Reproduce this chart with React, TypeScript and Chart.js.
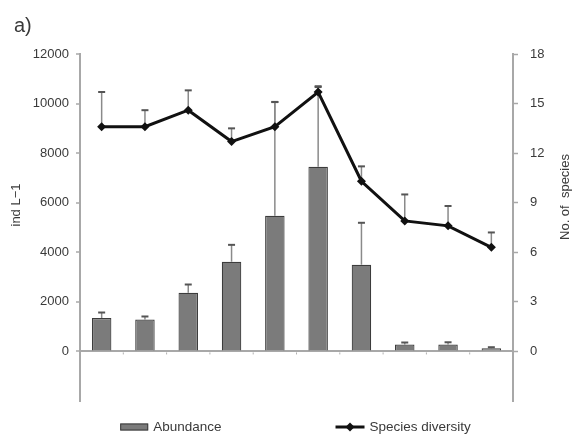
import React, { useEffect, useRef } from "react";
import { Chart, registerables } from "chart.js";

Chart.register(...registerables);

const categories = ["1", "2", "3", "4", "5", "6", "7", "8", "9", "10"];
const abundance = [1350, 1290, 2370, 3620, 5470, 7450, 3500, 280, 280, 130];
const abundanceSD = [220, 120, 330, 680, 4590, 3250, 1690, 80, 90, 40];
const diversity = [13.6, 13.6, 14.6, 12.7, 13.6, 15.7, 10.3, 7.9, 7.6, 6.3];
const diversitySD = [2.1, 1.0, 1.2, 0.8, 1.5, 0.3, 0.9, 1.6, 1.2, 0.9];
const leftTicks = { min: -2000, max: 12000, step: 2000 };
const rightTicks = { min: -3, max: 18, step: 3 };

const FONT = "'Liberation Sans', Arial, sans-serif";
const TEXT = "#3a3a3a";
const AXIS = "#a8a8a8";

const extrasPlugin = {
  id: "extras",
  beforeDatasetsDraw(chart: any) {
    const ctx = chart.ctx;
    const x = chart.scales.x;
    const yL = chart.scales.y;
    const yR = chart.scales.y1;
    ctx.save();
    // small category ticks below zero line
    const y0 = yL.getPixelForValue(0);
    ctx.strokeStyle = "#b0b0b0";
    ctx.lineWidth = 1;
    for (let i = 1; i < categories.length; i++) {
      const bx = (x.getPixelForValue(i - 1) + x.getPixelForValue(i)) / 2;
      ctx.beginPath();
      ctx.moveTo(bx, y0 + 1);
      ctx.lineTo(bx, y0 + 3);
      ctx.stroke();
    }
    // error bars (upper only)
    const drawErr = (px: number, yFrom: number, yTo: number, cap: number) => {
      ctx.strokeStyle = "#8a8a8a";
      ctx.lineWidth = 1.5;
      ctx.beginPath();
      ctx.moveTo(px, yFrom);
      ctx.lineTo(px, yTo);
      ctx.stroke();
      ctx.strokeStyle = "#555";
      ctx.lineWidth = 2;
      ctx.beginPath();
      ctx.moveTo(px - cap, yTo);
      ctx.lineTo(px + cap, yTo);
      ctx.stroke();
    };
    const barMeta = chart.getDatasetMeta(0);
    barMeta.data.forEach((el: any, i: number) => {
      drawErr(
        el.x,
        yL.getPixelForValue(abundance[i]),
        yL.getPixelForValue(abundance[i] + abundanceSD[i]),
        3.5
      );
    });
    const lineMeta = chart.getDatasetMeta(1);
    lineMeta.data.forEach((el: any, i: number) => {
      drawErr(
        el.x,
        yR.getPixelForValue(diversity[i]),
        yR.getPixelForValue(diversity[i] + diversitySD[i]),
        3.5
      );
    });
    ctx.restore();
  },
  afterDraw(chart: any) {
    const ctx = chart.ctx;
    const area = chart.chartArea;
    ctx.save();
    ctx.fillStyle = TEXT;
    // panel label
    ctx.font = `20px ${FONT}`;
    ctx.textAlign = "left";
    ctx.textBaseline = "alphabetic";
    ctx.fillText("a)", 14, 32);
    // axis titles
    ctx.font = `13px ${FONT}`;
    ctx.textAlign = "center";
    ctx.textBaseline = "middle";
    ctx.save();
    ctx.translate(16, 205);
    ctx.rotate(-Math.PI / 2);
    ctx.fillText("ind L\u22121", 0, 0);
    ctx.restore();
    ctx.save();
    ctx.translate(565, 197);
    ctx.rotate(-Math.PI / 2);
    ctx.fillText("No. of  species", 0, 0);
    ctx.restore();
    // legend
    const ds = chart.data.datasets;
    ctx.font = `13.5px ${FONT}`;
    const t1 = ds[0].label;
    const t2 = ds[1].label;
    const w1 = 28 + 5 + ctx.measureText(t1).width;
    const w2 = 29 + 5 + ctx.measureText(t2).width;
    const gap = 114;
    const total = w1 + gap + w2;
    const cx = (area.left + area.right) / 2 - 1;
    let lx = cx - total / 2;
    const ly = 427;
    ctx.fillStyle = ds[0].backgroundColor;
    ctx.fillRect(lx, ly - 3.5, 28, 7);
    ctx.strokeStyle = ds[0].borderColor;
    ctx.lineWidth = 1;
    ctx.strokeRect(lx + 0.5, ly - 3, 27, 6);
    ctx.fillStyle = TEXT;
    ctx.textAlign = "left";
    ctx.fillText(t1, lx + 33, ly);
    lx += w1 + gap;
    ctx.strokeStyle = ds[1].borderColor;
    ctx.lineWidth = 3;
    ctx.beginPath();
    ctx.moveTo(lx, ly);
    ctx.lineTo(lx + 29, ly);
    ctx.stroke();
    ctx.fillStyle = ds[1].pointBackgroundColor;
    ctx.beginPath();
    const dx = lx + 14.5;
    ctx.moveTo(dx, ly - 4.5);
    ctx.lineTo(dx + 4.5, ly);
    ctx.lineTo(dx, ly + 4.5);
    ctx.lineTo(dx - 4.5, ly);
    ctx.closePath();
    ctx.fill();
    ctx.fillStyle = TEXT;
    ctx.fillText(t2, lx + 34, ly);
    ctx.restore();
  },
};

export default function App() {
  const ref = useRef<HTMLCanvasElement | null>(null);
  useEffect(() => {
    if (!ref.current) return;
    const chart = new Chart(ref.current, {
      type: "bar",
      data: {
        labels: categories,
        datasets: [
          {
            type: "bar",
            label: "Abundance",
            data: abundance,
            backgroundColor: "#7b7b7b",
            borderColor: "#3c3c3c",
            borderWidth: 1.2,
            barPercentage: 0.9,
            categoryPercentage: 0.5,
            yAxisID: "y",
            order: 2,
          },
          {
            type: "line",
            label: "Species diversity",
            data: diversity,
            borderColor: "#111111",
            borderWidth: 3,
            pointStyle: "rectRot",
            pointRadius: 4.5,
            pointBackgroundColor: "#111111",
            pointBorderColor: "#111111",
            pointBorderWidth: 0,
            tension: 0,
            yAxisID: "y1",
            order: 1,
          } as any,
        ],
      },
      options: {
        animation: false,
        responsive: true,
        maintainAspectRatio: false,
        layout: { padding: { left: 0, right: 0, top: 54, bottom: 33 } },
        plugins: {
          legend: { display: false },
          tooltip: { enabled: false },
          title: { display: false },
        },
        scales: {
          x: {
            display: false,
            offset: true,
          },
          y: {
            position: "left",
            min: leftTicks.min,
            max: leftTicks.max,
            ticks: {
              stepSize: leftTicks.step,
              color: TEXT,
              font: { family: FONT, size: 13 },
              padding: 7,
              callback: (v: any) => (Number(v) < 0 ? "" : String(v)),
            },
            grid: {
              display: true,
              drawOnChartArea: true,
              color: (c: any) => (c.tick && c.tick.value === 0 ? AXIS : "transparent"),
              lineWidth: 2,
              tickColor: (c: any) => (c.tick && c.tick.value < 0 ? "transparent" : AXIS),
              tickLength: 4,
              tickWidth: 1.5,
            },
            border: { display: true, color: AXIS, width: 2 },
            afterFit: (s: any) => {
              s.width = 80;
            },
          },
          y1: {
            position: "right",
            min: rightTicks.min,
            max: rightTicks.max,
            ticks: {
              stepSize: rightTicks.step,
              color: TEXT,
              font: { family: FONT, size: 13 },
              padding: 12,
              callback: (v: any) => (Number(v) < 0 ? "" : String(v)),
            },
            grid: {
              display: true,
              drawOnChartArea: false,
              color: "transparent",
              tickColor: (c: any) => (c.tick && c.tick.value < 0 ? "transparent" : AXIS),
              tickLength: 5,
              tickWidth: 1.5,
            },
            border: { display: true, color: AXIS, width: 2 },
            afterFit: (s: any) => {
              s.width = 63;
            },
          },
        },
      },
      plugins: [extrasPlugin],
    });
    return () => chart.destroy();
  }, []);
  return (
    <div
      style={{
        position: "absolute",
        left: 0,
        top: 0,
        width: 576,
        height: 434,
        background: "#ffffff",
      }}
    >
      <canvas ref={ref} />
    </div>
  );
}
